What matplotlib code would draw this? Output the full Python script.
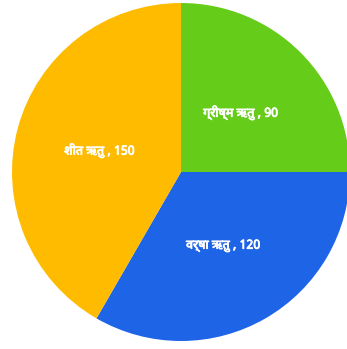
import matplotlib
matplotlib.use("Agg")
import matplotlib.pyplot as plt
import matplotlib.patheffects as pe

# seasons and their values (degrees of the pie)
seasons = ["ग्रीष्म ऋतु", "वर्षा ऋतु", "शीत ऋतु"]
values = [90, 120, 150]
colors = ["#66cc1a", "#1e64e6", "#ffbb00"]

fig = plt.figure(figsize=(3.47, 3.49), dpi=100)
ax = fig.add_axes([0, 0, 1, 1])

labels = [f"{s} , {v}" for s, v in zip(seasons, values)]
wedges, texts = ax.pie(
    values,
    labels=labels,
    colors=colors,
    startangle=90,
    counterclock=False,
    labeldistance=0.5,
    wedgeprops={"linewidth": 0},
)
for t in texts:
    t.set_ha("center")
    t.set_va("center")
    t.set_color("white")
    t.set_fontsize(9)
    t.set_fontweight("bold")
    t.set_family(["Noto Sans Devanagari", "DejaVu Sans"])
    # fake a heavier weight, the labels in the reference look bold
    t.set_path_effects([pe.withStroke(linewidth=0.6, foreground="white")])

# place the pie like in the reference (slightly cut on the right)
ax.set_xlim(-181 / 169, 166 / 169)
ax.set_ylim((172 - 349) / 169, 172 / 169)
ax.axis("off")

fig.savefig("out.png", dpi=100)
